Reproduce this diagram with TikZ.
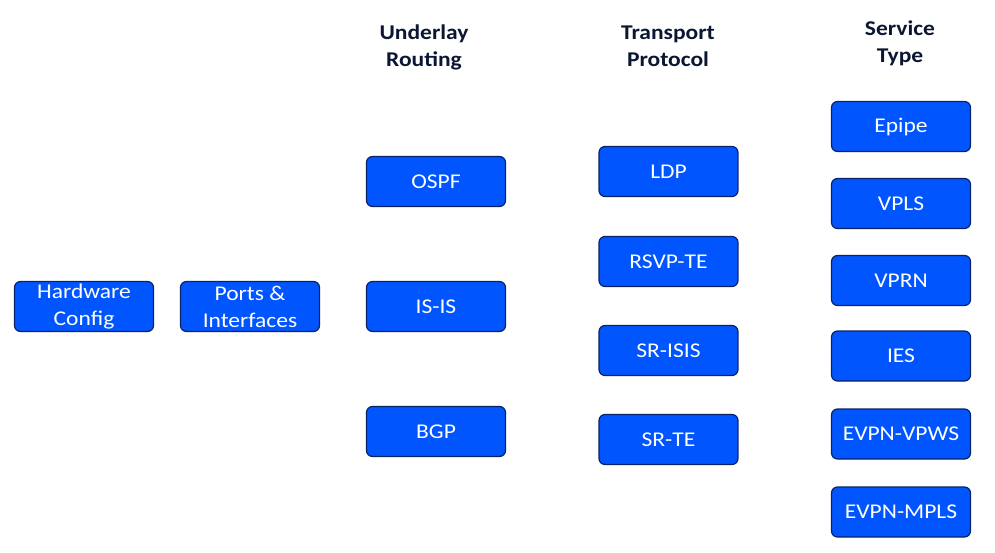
\documentclass[tikz,border=0pt]{standalone}
\usepackage{fontspec}
\setmainfont{Carlito}[FakeStretch=1.12]
\definecolor{bblue}{HTML}{0055FF}
\definecolor{bdark}{HTML}{0A2266}
\definecolor{hdark}{HTML}{0B1633}
\pgfdeclareverticalshading{boxshade}{100bp}{color(0bp)=(bdark); color(6bp)=(bblue!70!bdark); color(14bp)=(bblue); color(100bp)=(bblue)}
\tikzset{
  box/.style={draw=bdark, line width=1.2pt, rounded corners=6pt, shading=boxshade,
    minimum width=139pt, minimum height=50pt, inner sep=0pt, text=white,
    align=center, font=\fontsize{21}{27}\selectfont},
  head/.style={text=hdark, align=center, font=\fontsize{21}{27}\selectfont\bfseries}
}
\begin{document}
\begin{tikzpicture}[x=1pt,y=-1pt]
\useasboundingbox (0,0) rectangle (995,553);
\node[head] (h1) at (424,47.5) {Underlay\\Routing};
\node[head] (h2) at (668,46) {Transport\\Protocol};
\node[head] (h3) at (900,43.5) {Service\\Type};
\node[box] (hw) at (84,306.5) {Hardware\\Config};
\node[box] (pi) at (250,306.5) {Ports \&\\Interfaces};
\node[box] (ospf) at (436,181.5) {OSPF};
\node[box] (isis) at (436,306.5) {IS-IS};
\node[box] (bgp) at (436,431.5) {BGP};
\node[box] (ldp) at (668.5,171.5) {LDP};
\node[box] (rsvp) at (668.5,261.5) {RSVP-TE};
\node[box] (srisis) at (668.5,350.5) {SR-ISIS};
\node[box] (srte) at (668.5,439.5) {SR-TE};
\node[box] (epipe) at (901,126.5) {Epipe};
\node[box] (vpls) at (901,203.5) {VPLS};
\node[box] (vprn) at (901,280.5) {VPRN};
\node[box] (ies) at (901,356) {IES};
\node[box] (vpws) at (901,434) {EVPN-VPWS};
\node[box] (mpls) at (901,512) {EVPN-MPLS};
\end{tikzpicture}
\end{document}
